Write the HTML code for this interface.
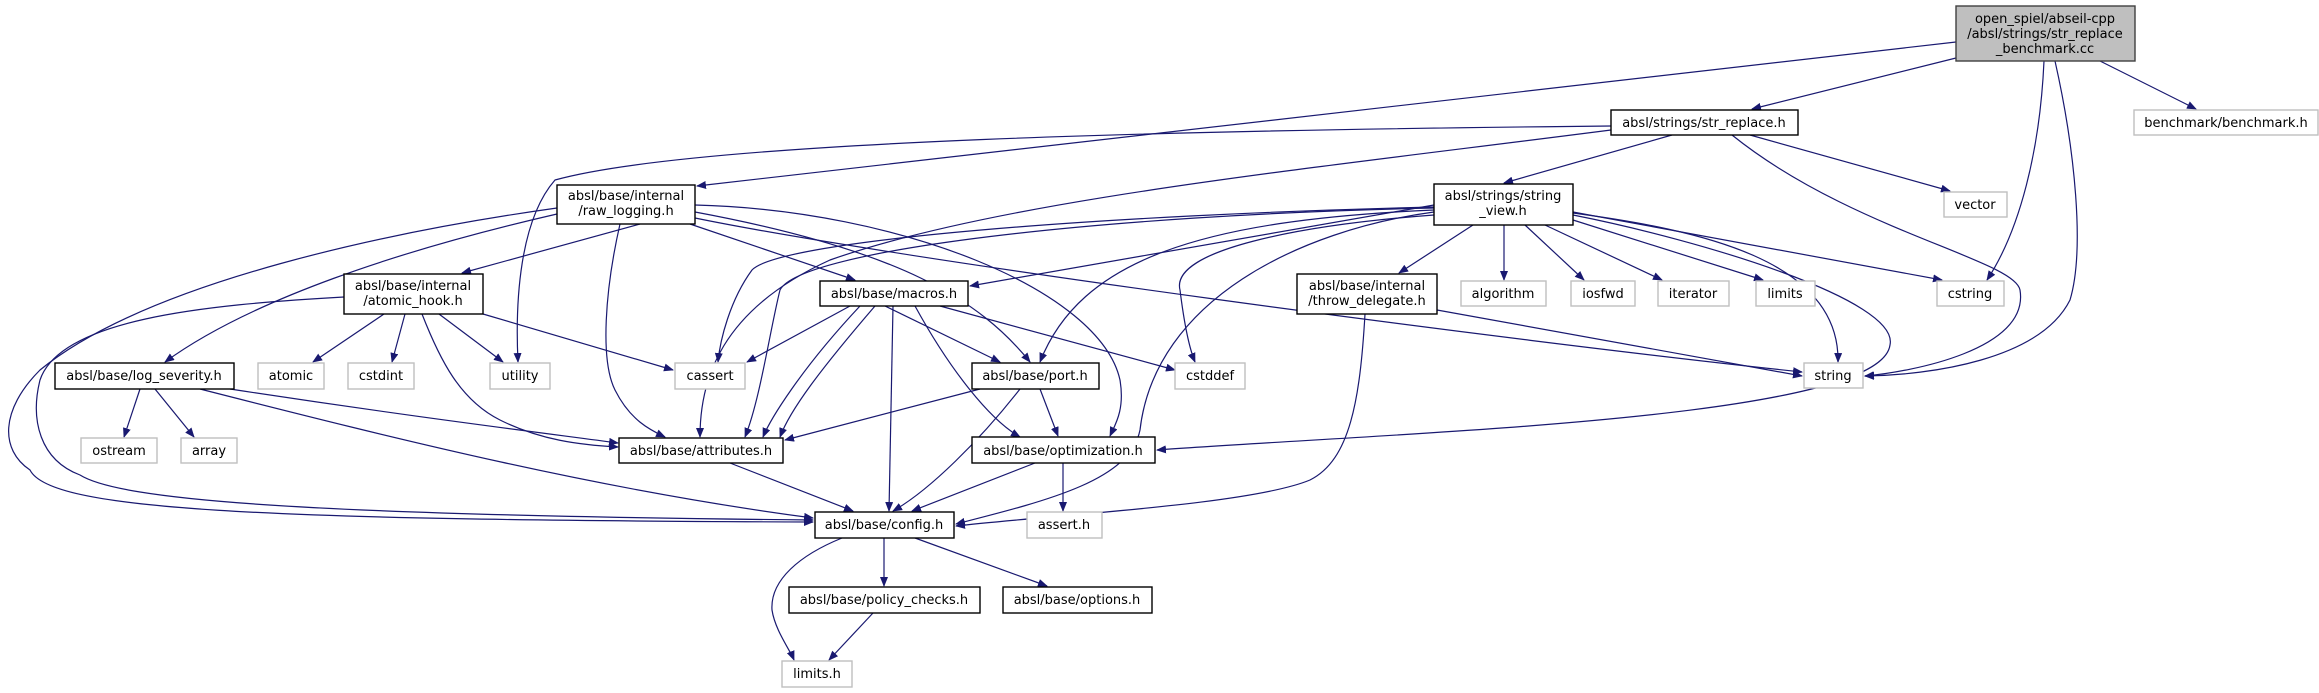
<!DOCTYPE html>
<html><head><meta charset="utf-8"><style>
html,body{margin:0;padding:0;background:#fff;}
svg{display:block;}
text{font-family:"DejaVu Sans","Liberation Sans",sans-serif;font-size:13px;fill:#000;}
.e{fill:none;stroke:#191970;stroke-width:1.2;}
.n{fill:#fff;stroke:#000;stroke-width:1.4;}
.g{fill:#fff;stroke:#bfbfbf;stroke-width:1.4;}
</style></head><body>
<svg width="2319" height="693" viewBox="0 0 2319 693" xmlns="http://www.w3.org/2000/svg">
<defs><marker id="a" markerWidth="10" markerHeight="8" refX="9" refY="4" orient="auto" markerUnits="userSpaceOnUse"><path d="M0,0 L10,4 L0,8 z" fill="#191970"/></marker></defs>
<g marker-end="url(#a)">
<!-- main -->
<path class="e" d="M1956,42 L697,186"/>
<path class="e" d="M1956,58 L1752,109"/>
<path class="e" d="M2100,61 L2196,109"/>
<path class="e" d="M2044,61 C2040,150 2020,230 1987,280"/>
<path class="e" d="M2055,61 C2075,150 2085,250 2070,300 C2040,360 1930,375 1865,376"/>
<!-- str_replace -->
<path class="e" d="M1611,126 C1200,130 700,140 555,180 C520,220 515,300 518,362"/>
<path class="e" d="M1611,130 C1300,170 1000,200 830,260 C720,310 700,380 700,437"/>
<path class="e" d="M1672,135 L1504,183"/>
<path class="e" d="M1750,135 L1950,191"/>
<path class="e" d="M1732,135 C1850,230 2015,260 2020,290 C2030,350 1910,372 1865,376"/>
<!-- string_view -->
<path class="e" d="M1473,225 L1399,273"/>
<path class="e" d="M1504,225 L1504,280"/>
<path class="e" d="M1525,225 L1584,280"/>
<path class="e" d="M1545,225 L1662,280"/>
<path class="e" d="M1573,220 L1763,280"/>
<path class="e" d="M1573,212 L1942,280"/>
<path class="e" d="M1573,213 C1700,230 1840,260 1838,362"/>
<path class="e" d="M1573,215 C1700,240 1900,300 1890,345 C1880,420 1400,432 1157,450"/>
<path class="e" d="M1434,205 L970,286"/>
<path class="e" d="M1434,210 C1200,220 1080,260 1040,362"/>
<path class="e" d="M1434,207 C1100,215 780,240 752,270 C730,300 720,340 718,362"/>
<path class="e" d="M1434,208 C1100,215 800,250 780,290 C770,330 760,400 745,437"/>
<path class="e" d="M1434,215 C1300,225 1170,250 1180,290 C1185,330 1190,350 1195,362"/>
<path class="e" d="M1434,212 C1300,230 1155,300 1140,430 C1130,480 1050,500 956,524"/>
<!-- throw_delegate -->
<path class="e" d="M1437,310 L1802,376"/>
<path class="e" d="M1365,314 C1360,400 1350,460 1310,480 C1250,505 1050,515 956,526"/>
<!-- raw_logging -->
<path class="e" d="M695,218 C900,260 1500,340 1802,372"/>
<path class="e" d="M640,224 L462,273"/>
<path class="e" d="M557,214 C400,250 250,300 165,362"/>
<path class="e" d="M557,208 C400,230 150,280 40,370 C0,410 0,450 30,470 C50,510 250,520 813,522"/>
<path class="e" d="M690,224 L855,280"/>
<path class="e" d="M620,224 C605,290 600,360 615,390 C630,420 650,430 665,437"/>
<path class="e" d="M695,212 C900,250 980,300 1030,362"/>
<path class="e" d="M695,205 C900,210 1100,290 1120,380 C1125,410 1115,425 1110,436"/>
<!-- atomic_hook -->
<path class="e" d="M384,314 L313,362"/>
<path class="e" d="M405,314 L392,362"/>
<path class="e" d="M439,314 L503,362"/>
<path class="e" d="M483,314 L673,370"/>
<path class="e" d="M422,314 C440,360 460,400 500,420 C540,440 580,445 618,447"/>
<path class="e" d="M344,297 C200,305 60,320 40,380 C30,420 40,460 80,475 C120,500 300,515 813,520"/>
<!-- log_severity -->
<path class="e" d="M140,389 L124,437"/>
<path class="e" d="M155,389 L194,437"/>
<path class="e" d="M230,389 C400,415 520,430 618,443"/>
<path class="e" d="M200,389 C400,440 600,490 813,518"/>
<!-- macros -->
<path class="e" d="M850,306 L747,362"/>
<path class="e" d="M940,306 L1175,370"/>
<path class="e" d="M885,306 L1000,362"/>
<path class="e" d="M860,306 C800,370 770,420 763,437"/>
<path class="e" d="M875,306 C820,370 790,410 780,437"/>
<path class="e" d="M893,306 L889,511"/>
<path class="e" d="M915,306 C950,370 990,420 1020,437"/>
<!-- port -->
<path class="e" d="M980,389 L785,440"/>
<path class="e" d="M1040,389 L1058,436"/>
<path class="e" d="M1020,389 C980,440 930,490 893,511"/>
<!-- attributes / optimization -->
<path class="e" d="M730,463 L853,511"/>
<path class="e" d="M1035,463 L912,511"/>
<path class="e" d="M1063,463 L1063,511"/>
<!-- config -->
<path class="e" d="M842,538 C800,555 770,580 772,610 C775,630 790,650 794,660"/>
<path class="e" d="M884,538 L884,586"/>
<path class="e" d="M915,538 L1047,586"/>
<path class="e" d="M873,613 L829,660"/>
</g>
<!-- nodes -->
<rect x="1956" y="6" width="179" height="55" fill="#bfbfbf" stroke="#404040" stroke-width="1.4"/>
<text x="2045" y="23" text-anchor="middle">open_spiel/abseil-cpp</text>
<text x="2045" y="38" text-anchor="middle">/absl/strings/str_replace</text>
<text x="2045" y="53" text-anchor="middle">_benchmark.cc</text>

<rect class="n" x="1611" y="110" width="187" height="25"/><text x="1704" y="127" text-anchor="middle">absl/strings/str_replace.h</text>
<rect class="g" x="2134" y="110" width="184" height="25"/><text x="2226" y="127" text-anchor="middle">benchmark/benchmark.h</text>

<rect class="n" x="557" y="185" width="138" height="39"/><text x="626" y="200" text-anchor="middle">absl/base/internal</text><text x="626" y="215" text-anchor="middle">/raw_logging.h</text>
<rect class="n" x="1434" y="184" width="139" height="41"/><text x="1503" y="200" text-anchor="middle">absl/strings/string</text><text x="1503" y="215" text-anchor="middle">_view.h</text>
<rect class="g" x="1944" y="192" width="63" height="25"/><text x="1975" y="209" text-anchor="middle">vector</text>

<rect class="n" x="344" y="274" width="139" height="40"/><text x="413" y="290" text-anchor="middle">absl/base/internal</text><text x="413" y="305" text-anchor="middle">/atomic_hook.h</text>
<rect class="n" x="820" y="281" width="148" height="25"/><text x="894" y="298" text-anchor="middle">absl/base/macros.h</text>
<rect class="n" x="1297" y="274" width="140" height="40"/><text x="1367" y="290" text-anchor="middle">absl/base/internal</text><text x="1367" y="305" text-anchor="middle">/throw_delegate.h</text>
<rect class="g" x="1461" y="281" width="85" height="25"/><text x="1503" y="298" text-anchor="middle">algorithm</text>
<rect class="g" x="1571" y="281" width="64" height="25"/><text x="1603" y="298" text-anchor="middle">iosfwd</text>
<rect class="g" x="1658" y="281" width="71" height="25"/><text x="1693" y="298" text-anchor="middle">iterator</text>
<rect class="g" x="1756" y="281" width="59" height="25"/><text x="1785" y="298" text-anchor="middle">limits</text>
<rect class="g" x="1937" y="281" width="67" height="25"/><text x="1970" y="298" text-anchor="middle">cstring</text>

<rect class="n" x="55" y="363" width="179" height="26"/><text x="144" y="380" text-anchor="middle">absl/base/log_severity.h</text>
<rect class="g" x="258" y="363" width="66" height="26"/><text x="291" y="380" text-anchor="middle">atomic</text>
<rect class="g" x="348" y="363" width="66" height="26"/><text x="381" y="380" text-anchor="middle">cstdint</text>
<rect class="g" x="490" y="363" width="60" height="26"/><text x="520" y="380" text-anchor="middle">utility</text>
<rect class="g" x="675" y="363" width="70" height="26"/><text x="710" y="380" text-anchor="middle">cassert</text>
<rect class="n" x="972" y="363" width="127" height="26"/><text x="1035" y="380" text-anchor="middle">absl/base/port.h</text>
<rect class="g" x="1175" y="363" width="70" height="26"/><text x="1210" y="380" text-anchor="middle">cstddef</text>
<rect class="g" x="1804" y="363" width="59" height="25"/><text x="1833" y="380" text-anchor="middle">string</text>

<rect class="g" x="81" y="438" width="76" height="25"/><text x="119" y="455" text-anchor="middle">ostream</text>
<rect class="g" x="181" y="438" width="56" height="25"/><text x="209" y="455" text-anchor="middle">array</text>
<rect class="n" x="619" y="438" width="164" height="25"/><text x="701" y="455" text-anchor="middle">absl/base/attributes.h</text>
<rect class="n" x="972" y="437" width="183" height="26"/><text x="1063" y="455" text-anchor="middle">absl/base/optimization.h</text>

<rect class="n" x="815" y="512" width="139" height="26"/><text x="884" y="529" text-anchor="middle">absl/base/config.h</text>
<rect class="g" x="1027" y="512" width="75" height="26"/><text x="1064" y="529" text-anchor="middle">assert.h</text>

<rect class="n" x="789" y="587" width="191" height="26"/><text x="884" y="604" text-anchor="middle">absl/base/policy_checks.h</text>
<rect class="n" x="1003" y="587" width="149" height="26"/><text x="1077" y="604" text-anchor="middle">absl/base/options.h</text>

<rect class="g" x="782" y="661" width="70" height="26"/><text x="817" y="678" text-anchor="middle">limits.h</text>
</svg>
</body></html>
